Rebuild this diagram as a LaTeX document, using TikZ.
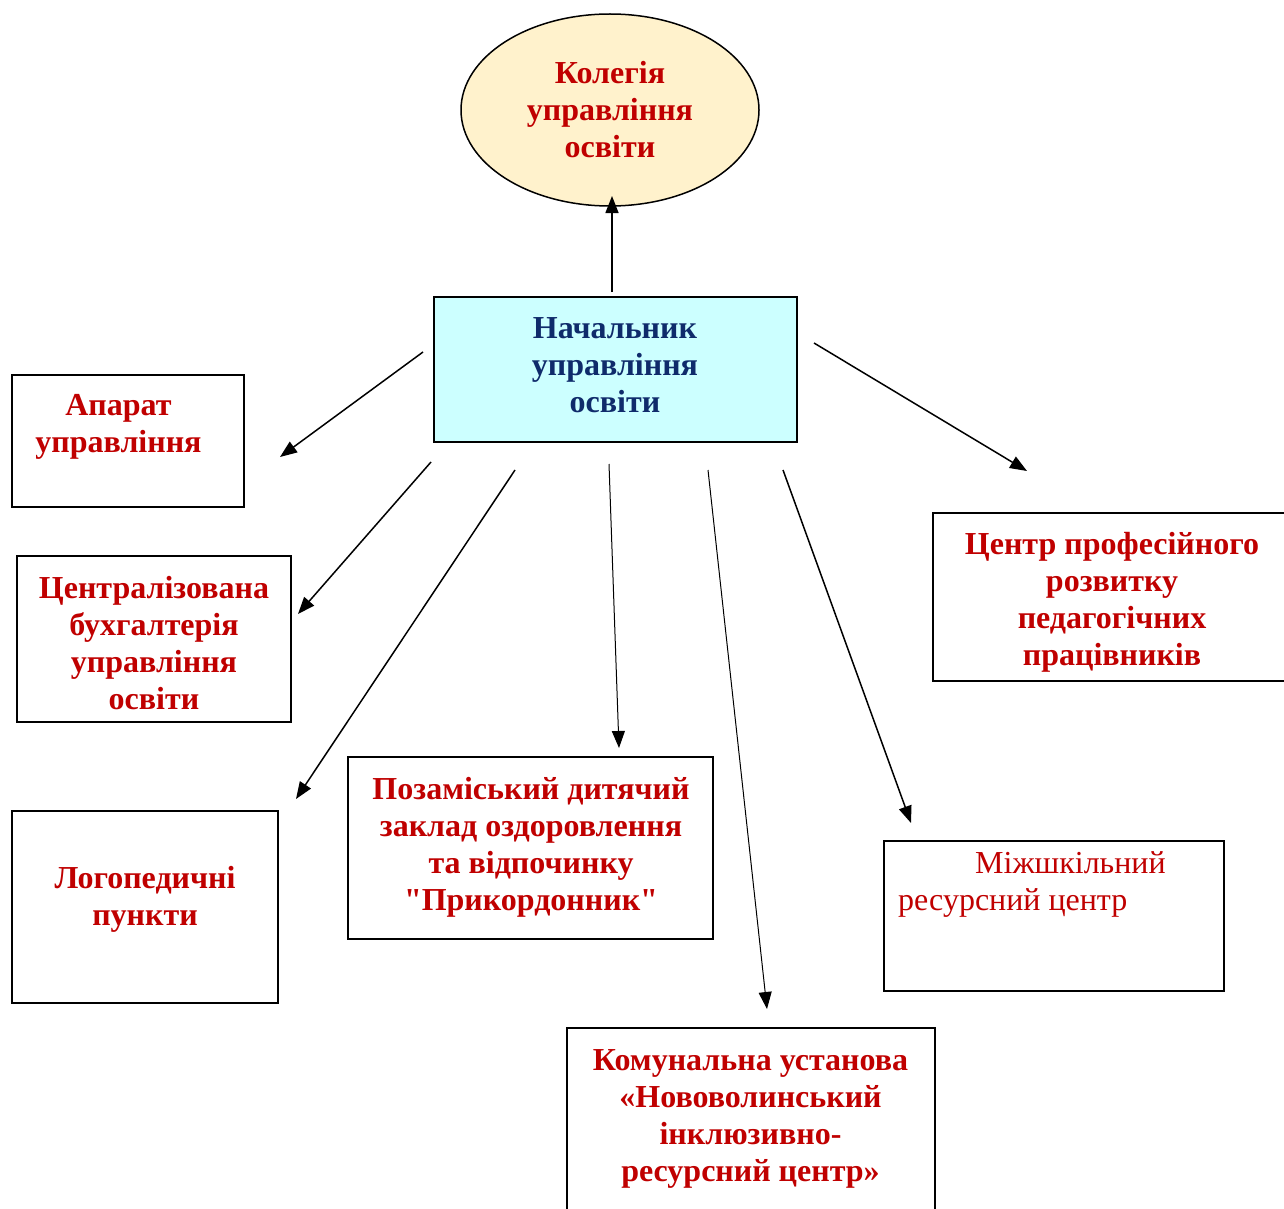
\documentclass[tikz,border=0pt]{standalone}
\usepackage{fontspec}
\setmainfont{Liberation Serif}[Ligatures=TeXOff]
\usetikzlibrary{arrows.meta,shapes.geometric}
\definecolor{txtred}{HTML}{C00000}
\definecolor{txtnavy}{HTML}{0F2B6B}
\definecolor{ellfill}{HTML}{FFF2CC}
\definecolor{startfill}{HTML}{CCFFFF}
\tikzset{
  frame/.style={draw=black, line width=2pt, rectangle, inner sep=0pt},
  label/.style={text=txtred, font=\bfseries\fontsize{32}{37}\selectfont, align=center, inner sep=0pt},
  plainlabel/.style={text=txtred, font=\fontsize{32}{37}\selectfont, align=left, inner sep=0pt},
  link/.style={draw=black, line width=1.5pt, -{Triangle[length=17pt,width=13pt]}},
  thinlink/.style={draw=black, line width=1pt, -{Triangle[length=17pt,width=13pt]}}
}
\begin{document}
\begin{tikzpicture}[x=1pt,y=-1pt]
\useasboundingbox (0,0) rectangle (1284,1209);
\clip (0,0) rectangle (1284,1209);
\fill[white] (0,0) rectangle (1284,1209);
% top ellipse
\node (kolegia) [ellipse, draw=black, line width=1.5pt, fill=ellfill, minimum width=298pt, minimum height=192pt, inner sep=0pt] at (610,110) {};
\node (kolegiatxt) [label] at (610,110) {Колегія\\управління\\освіти};
% head
\node (head) [frame, fill=startfill, minimum width=363pt, minimum height=145pt] at (615.5,369.5) {};
\node (headtxt) [label, text=txtnavy] at (615,365.5) {Начальник\\управління\\освіти};
% boxes
\node (aparat) [frame, minimum width=232pt, minimum height=132pt] at (128,441) {};
\node (aparattxt) [label] at (118.5,427) {Апарат\\управління};
\node (buh) [frame, minimum width=274pt, minimum height=166pt] at (154,639) {};
\node (buhtxt) [label] at (154,643) {Централізована\\бухгалтерія\\управління\\освіти};
\node (logo) [frame, minimum width=266pt, minimum height=192pt] at (145,907) {};
\node (logotxt) [label] at (145,899) {Логопедичні\\пункти};
\node (poz) [frame, minimum width=365pt, minimum height=182pt] at (530.5,848) {};
\node (poztxt) [label] at (531,847) {Позаміський дитячий\\заклад оздоровлення\\та відпочинку\\"Прикордонник"};
\node (kom) [frame, minimum width=368pt, minimum height=202pt] at (751,1129) {};
\node (komtxt) [label] at (750.5,1118.5) {Комунальна установа\\«Нововолинський\\інклюзивно-\\ресурсний центр»};
\node (mizh) [frame, minimum width=340pt, minimum height=150pt] at (1054,916) {};
\node (mizhtxt) [plainlabel, anchor=west] at (898,884.5) {\hspace*{77pt}Міжшкільний\\ресурсний центр};
\node (centr) [frame, minimum width=367pt, minimum height=168pt] at (1116.5,597) {};
\node (centrtxt) [label] at (1112,602.5) {Центр професійного\\розвитку\\педагогічних\\працівників};
% connector end points
\coordinate (sKol) at (612,292);  \coordinate (eKol) at (612,196);
\coordinate (sAp) at (423,352);   \coordinate (eAp) at (280,457);
\coordinate (sBuh) at (431,462);  \coordinate (eBuh) at (298,614);
\coordinate (sLogo) at (515,470); \coordinate (eLogo) at (296,799);
\coordinate (sPoz) at (609,464);  \coordinate (ePoz) at (619,748);
\coordinate (sKom) at (708,470);  \coordinate (eKom) at (767,1009);
\coordinate (sMizh) at (783,470); \coordinate (eMizh) at (911,823);
\coordinate (sCentr) at (814,343); \coordinate (eCentr) at (1027,471);
% connectors
\draw[link] (sKol) -- (eKol);
\draw[link] (sAp) -- (eAp);
\draw[link] (sBuh) -- (eBuh);
\draw[link] (sLogo) -- (eLogo);
\draw[thinlink] (sPoz) -- (ePoz);
\draw[thinlink] (sKom) -- (eKom);
\draw[link] (sMizh) -- (eMizh);
\draw[link] (sCentr) -- (eCentr);
\end{tikzpicture}
\end{document}
